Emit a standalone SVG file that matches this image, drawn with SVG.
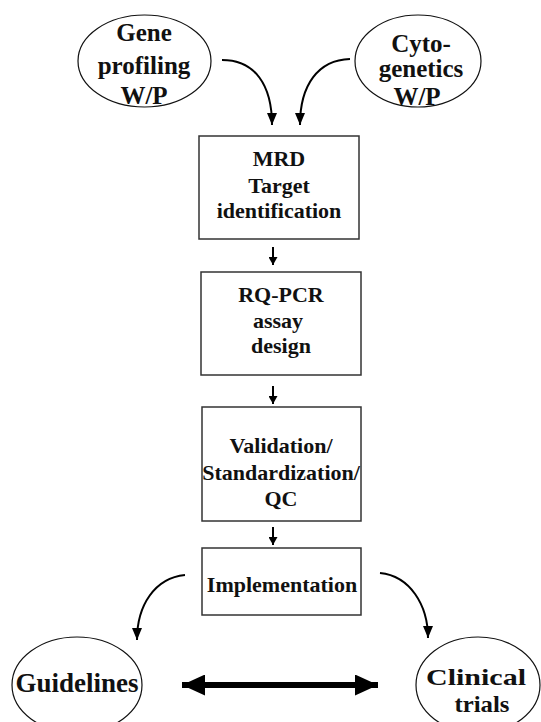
<svg xmlns="http://www.w3.org/2000/svg" width="541" height="722" viewBox="0 0 541 722">
<style>
  .lbl { font-family: "Liberation Serif", "Times New Roman", "DejaVu Serif", serif; font-weight: bold; fill: #111; text-anchor: middle; }
  .big { font-size: 25px; }
  .box { font-size: 22px; }
  .bot { font-size: 27px; }
  .bot2 { font-size: 24px; }
  .oval { fill: #fff; stroke: #111; stroke-width: 1.2; }
  .rect { fill: #fff; stroke: #333; stroke-width: 1.5; }
  .conn { fill: none; stroke: #000; stroke-width: 2; }
</style>
<defs>
  <marker id="head" viewBox="0 0 12 10" refX="12" refY="5" markerWidth="12" markerHeight="10" markerUnits="userSpaceOnUse" orient="auto">
    <path d="M0,0 L12,5 L0,10 z" fill="#000"/>
  </marker>
  <marker id="small" viewBox="0 0 8 9" refX="8" refY="4.5" markerWidth="8" markerHeight="9" markerUnits="userSpaceOnUse" orient="auto">
    <path d="M0,0 L8,4.5 L0,9 z" fill="#000"/>
  </marker>
  <marker id="thick" viewBox="0 0 23 21" refX="23" refY="10.5" markerWidth="23" markerHeight="21" markerUnits="userSpaceOnUse" orient="auto-start-reverse">
    <path d="M0,0 L23,10.5 L0,21 z" fill="#000"/>
  </marker>
</defs>
<rect width="541" height="722" fill="#fff"/>

<g id="gene">
  <ellipse class="oval" cx="144.5" cy="61" rx="66.5" ry="46"/>
  <text class="lbl big" x="144" y="41">Gene</text>
  <text class="lbl big" x="144" y="74">profiling</text>
  <text class="lbl big" x="144" y="104">W/P</text>
</g>
<g id="cyto">
  <ellipse class="oval" cx="418" cy="61" rx="63" ry="46"/>
  <text class="lbl big" x="421" y="52">Cyto-</text>
  <text class="lbl big" x="421" y="77">genetics</text>
  <text class="lbl big" x="417" y="105">W/P</text>
</g>
<g id="mrd">
  <rect class="rect" x="199" y="136" width="160" height="103"/>
  <text class="lbl box" x="279" y="166">MRD</text>
  <text class="lbl box" x="279" y="193">Target</text>
  <text class="lbl box" x="279" y="218">identification</text>
</g>
<g id="rqpcr">
  <rect class="rect" x="201" y="272" width="160" height="103"/>
  <text class="lbl box" x="281" y="302">RQ-PCR</text>
  <text class="lbl box" x="278" y="328">assay</text>
  <text class="lbl box" x="281" y="353">design</text>
</g>
<g id="validation">
  <rect class="rect" x="202" y="407" width="159" height="114"/>
  <text class="lbl box" x="281" y="453">Validation/</text>
  <text class="lbl box" x="281" y="480">Standardization/</text>
  <text class="lbl box" x="281" y="506">QC</text>
</g>
<g id="implementation">
  <rect class="rect" x="202" y="548" width="159" height="67"/>
  <text class="lbl box" x="282" y="592">Implementation</text>
</g>
<g id="guidelines">
  <ellipse class="oval" cx="77" cy="685" rx="65" ry="48"/>
  <text class="lbl bot" x="77" y="692">Guidelines</text>
</g>
<g id="clinical">
  <ellipse class="oval" cx="478" cy="685" rx="62" ry="48"/>
  <text class="lbl bot2" x="476" y="685" textLength="100" lengthAdjust="spacingAndGlyphs">Clinical</text>
  <text class="lbl bot2" x="482" y="712" textLength="55" lengthAdjust="spacingAndGlyphs">trials</text>
</g>

<g id="connectors">
  <path class="conn" d="M222,60 C255,60 272,85 272,125" marker-end="url(#head)"/>
  <path class="conn" d="M350,59 C318,60 300,85 300,125" marker-end="url(#head)"/>
  <path class="conn" d="M273,247 L273,265" marker-end="url(#small)"/>
  <path class="conn" d="M273,386 L273,404" marker-end="url(#small)"/>
  <path class="conn" d="M273,527 L273,545" marker-end="url(#small)"/>
  <path class="conn" d="M185,575 C155,578 137,605 137,640" marker-end="url(#head)"/>
  <path class="conn" d="M380,573 C410,576 428,605 428,638" marker-end="url(#head)"/>
  <path class="conn" d="M182,685 L378,685" style="stroke-width:6" marker-start="url(#thick)" marker-end="url(#thick)"/>
</g>
</svg>
